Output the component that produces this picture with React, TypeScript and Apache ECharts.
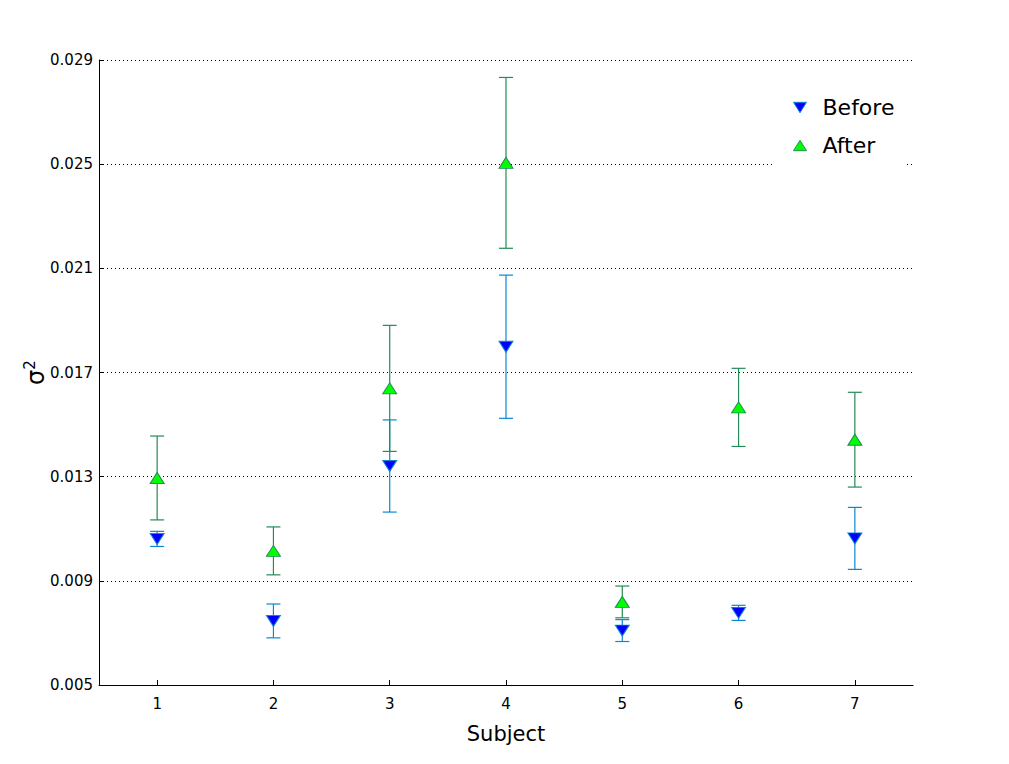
import React, { useEffect, useRef } from "react";
import * as echarts from "echarts";

const subjects = ["1", "2", "3", "4", "5", "6", "7"];
const beforeMean = [0.01061, 0.00746, 0.01341, 0.01799, 0.00709, 0.00777, 0.01063];
const beforeErr = [0.00029, 0.00065, 0.00177, 0.00275, 0.00042, 0.00029, 0.00119];
const afterMean = [0.01295, 0.01015, 0.01639, 0.02505, 0.00819, 0.01566, 0.01442];
const afterErr = [0.00161, 0.00092, 0.00242, 0.00328, 0.00061, 0.0015, 0.00182];
const yTicks = { min: 0.005, max: 0.029, interval: 0.004 };

const FONT = "DejaVu Sans";
const BLUE_BAR = "#0C87D2";
const GREEN_BAR = "#238B57";

function errorSeries(name: string, means: number[], errs: number[], color: string, z: number) {
  return {
    type: "custom",
    name: name + "-err",
    z,
    silent: true,
    data: means.map((m, i) => [i, m - errs[i], m + errs[i]]),
    renderItem: (params: any, api: any) => {
      const x = api.value(0);
      const lo = api.coord([x, api.value(1)]);
      const hi = api.coord([x, api.value(2)]);
      const cap = 7;
      const style = { stroke: color, lineWidth: 1.2 };
      return {
        type: "group",
        children: [
          { type: "line", shape: { x1: lo[0], y1: lo[1], x2: hi[0], y2: hi[1] }, style },
          { type: "line", shape: { x1: lo[0] - cap, y1: lo[1], x2: lo[0] + cap, y2: lo[1] }, style },
          { type: "line", shape: { x1: hi[0] - cap, y1: hi[1], x2: hi[0] + cap, y2: hi[1] }, style },
        ],
      };
    },
  };
}

export default function App() {
  const ref = useRef<HTMLDivElement>(null);
  useEffect(() => {
    if (!ref.current) return;
    const chart = echarts.init(ref.current, undefined, { renderer: "svg" });
    chart.setOption({
      animation: false,
      backgroundColor: "#fff",
      textStyle: { fontFamily: FONT },
      grid: { left: 99, right: 96, top: 60, bottom: 79 },
      xAxis: {
        type: "category",
        data: subjects,
        boundaryGap: true,
        name: "Subject",
        nameLocation: "middle",
        nameGap: 38,
        nameMoveOverlap: false,
        nameTextStyle: { fontSize: 21, color: "#000", fontFamily: FONT },
        axisLine: { show: true, lineStyle: { color: "#000", width: 1 } },
        axisTick: { show: true, inside: true, length: 5, alignWithLabel: true, lineStyle: { color: "#000" } },
        axisLabel: { fontSize: 15, color: "#000", margin: 11, fontFamily: FONT },
        splitLine: { show: false },
      },
      yAxis: {
        type: "value",
        min: yTicks.min,
        max: yTicks.max,
        interval: yTicks.interval,
        name: "{s|σ}{p|2}",
        nameLocation: "middle",
        nameRotate: 90,
        nameGap: 51,
        nameMoveOverlap: false,
        nameTextStyle: {
          color: "#000",
          fontFamily: FONT,
          rich: {
            s: { fontSize: 24, fontFamily: FONT, color: "#000", lineHeight: 26, verticalAlign: "bottom" },
            p: { fontSize: 15, fontFamily: FONT, color: "#000", lineHeight: 26, verticalAlign: "top", padding: [0, 0, 12, 0] },
          },
        },
        axisLine: { show: true, lineStyle: { color: "#000", width: 1 } },
        axisTick: { show: true, inside: true, length: 5, lineStyle: { color: "#000" } },
        axisLabel: {
          fontSize: 15,
          color: "#000",
          margin: 6,
          fontFamily: FONT,
          formatter: (v: number) => v.toFixed(3),
        },
        splitLine: { show: true, lineStyle: { color: "#000", type: [1, 3], width: 1 } },
      },
      legend: {
        orient: "vertical",
        left: 793,
        top: 95,
        padding: 0,
        itemWidth: 13,
        itemHeight: 11,
        itemGap: 13,
        textStyle: { fontSize: 22, lineHeight: 25, color: "#000", fontFamily: FONT, padding: [0, 0, 0, 11] },
        data: [
          { name: "Before", icon: "path://M0,0 L10,0 L5,8 Z", itemStyle: { color: "#0000FF", borderColor: BLUE_BAR, borderWidth: 1 } },
          { name: "After", icon: "path://M5,0 L10,8 L0,8 Z", itemStyle: { color: "#00FF00", borderColor: GREEN_BAR, borderWidth: 1 } },
        ],
      },
      graphic: [
        { type: "rect", left: 775, top: 82, shape: { width: 131, height: 90 }, style: { fill: "#fff" }, z: 1 },
      ],
      series: [
        errorSeries("Before", beforeMean, beforeErr, BLUE_BAR, 2),
        {
          type: "scatter",
          name: "Before",
          z: 3,
          symbol: "triangle",
          symbolRotate: 180,
          symbolSize: [14, 11],
          itemStyle: { color: "#0000FF", borderColor: BLUE_BAR, borderWidth: 1, opacity: 1 },
          data: beforeMean.map((m, i) => [i, m]),
        },
        errorSeries("After", afterMean, afterErr, GREEN_BAR, 4),
        {
          type: "scatter",
          name: "After",
          z: 5,
          symbol: "triangle",
          symbolSize: [14, 11],
          itemStyle: { color: "#00FF00", borderColor: GREEN_BAR, borderWidth: 1, opacity: 1 },
          data: afterMean.map((m, i) => [i, m]),
        },
      ],
    });
    return () => chart.dispose();
  }, []);
  return (
    <div
      ref={ref}
      style={{ position: "fixed", left: 0, top: 0, width: 1009, height: 764, background: "#fff" }}
    />
  );
}
